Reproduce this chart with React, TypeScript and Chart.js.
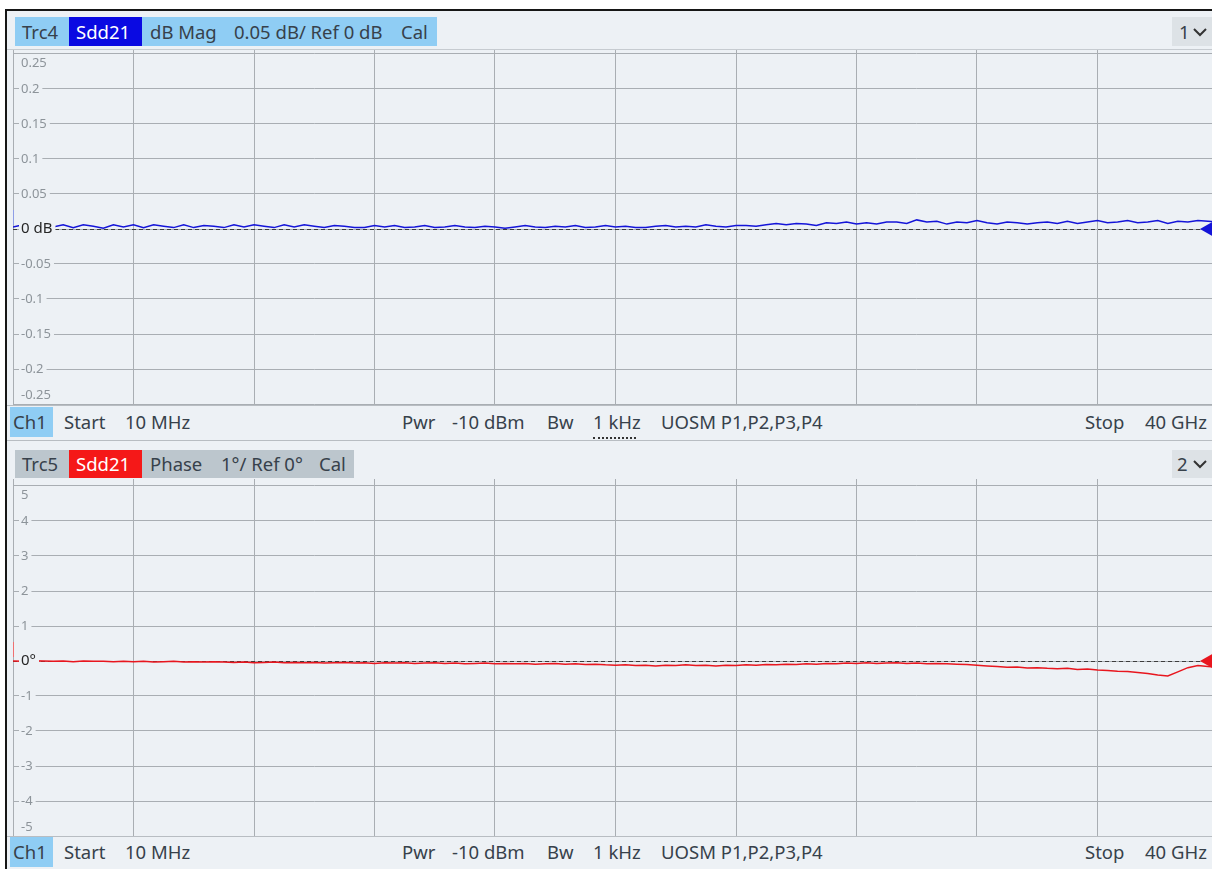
import React, { useEffect, useRef } from "react";
import { Chart, registerables } from "chart.js";

Chart.register(...registerables);

// ---------- data ----------
const START_GHZ = 0.01;
const STOP_GHZ = 40;
const DIVISIONS = 10;

const magTicks = [0.25, 0.2, 0.15, 0.1, 0.05, 0, -0.05, -0.1, -0.15, -0.2, -0.25];
const magTickLabels = ["0.25", "0.2", "0.15", "0.1", "0.05", "0 dB", "-0.05", "-0.1", "-0.15", "-0.2", "-0.25"];

const phaseTicks = [5, 4, 3, 2, 1, 0, -1, -2, -3, -4, -5];
const phaseTickLabels = ["5", "4", "3", "2", "1", "0°", "-1", "-2", "-3", "-4", "-5"];

// Sdd21 dB magnitude (dB), 121 sweep points from Start to Stop
const magDb = [
  0.003, 0.006, 0.002, 0.006, 0.003, 0.006, 0.002, 0.006, 0.004, 0.001,
  0.006, 0.003, 0.006, 0.002, 0.006, 0.004, 0.002, 0.006, 0.002, 0.005,
  0.004, 0.002, 0.006, 0.003, 0.006, 0.004, 0.002, 0.006, 0.003, 0.006,
  0.004, 0.002, 0.005,
  0.004, 0.002, 0.002, 0.005, 0.003, 0.005, 0.002, 0.003, 0.005, 0.002,
  0.003, 0.005, 0.003, 0.002, 0.004, 0.003, 0.001, 0.003, 0.005, 0.003,
  0.002, 0.004, 0.003, 0.005, 0.002, 0.003, 0.005, 0.003, 0.004, 0.002,
  0.002, 0.004, 0.005, 0.003, 0.004, 0.003, 0.006, 0.004, 0.003, 0.005,
  0.005, 0.004,
  0.006, 0.008, 0.006, 0.008, 0.007, 0.005, 0.009, 0.008, 0.010, 0.007,
  0.009, 0.007, 0.010, 0.010, 0.008, 0.013, 0.010, 0.011, 0.007, 0.010,
  0.009, 0.012, 0.009, 0.007, 0.010, 0.009, 0.007, 0.009, 0.010, 0.008,
  0.011, 0.008, 0.010, 0.012, 0.009, 0.010, 0.012, 0.009, 0.010, 0.012,
  0.008, 0.011, 0.010, 0.012, 0.011, 0.010,
];

// Sdd21 phase (degrees), 121 sweep points from Start to Stop
const phaseDeg = [
  0.0, -0.01, 0.01, 0.0, -0.01, 0.0, -0.02, 0.0, -0.01, -0.01,
  -0.02, -0.01, -0.02, -0.01, -0.03, -0.02, -0.01, -0.03, -0.02, -0.03,
  -0.02, -0.03, -0.04, -0.03, -0.05, -0.04, -0.03, -0.05, -0.04, -0.05,
  -0.04, -0.06, -0.05, -0.04, -0.06, -0.05, -0.07, -0.05, -0.06, -0.05,
  -0.07, -0.06, -0.05, -0.07, -0.06, -0.08, -0.07, -0.06, -0.08, -0.07,
  -0.08, -0.07, -0.09, -0.08, -0.07, -0.09, -0.08, -0.10, -0.09, -0.11,
  -0.12, -0.11, -0.13, -0.12, -0.14, -0.12, -0.13, -0.11, -0.13, -0.12,
  -0.14, -0.12, -0.13, -0.11, -0.12, -0.10, -0.11, -0.09, -0.10, -0.08,
  -0.09, -0.07, -0.08, -0.06, -0.07, -0.05, -0.07, -0.06, -0.05, -0.07,
  -0.06, -0.08, -0.07, -0.08, -0.09, -0.10, -0.12, -0.14, -0.16, -0.18,
  -0.17, -0.20, -0.19, -0.21, -0.22, -0.21, -0.24, -0.23, -0.26, -0.27,
  -0.29, -0.30, -0.33, -0.36, -0.40, -0.43, -0.31, -0.19, -0.13, -0.16,
  -0.18,
];

// ---------- style ----------
const BG = "#edf1f5";
const GRID = "#a9aeb3";
const FONT = '"Noto Sans", "DejaVu Sans", sans-serif';
const TXT = "#37414b";
const LIGHT_BLUE = "#8fcdf4";
const GRAY_HDR = "#bcc6cd";

const sweepGHz = (n: number) => {
  const out: number[] = [];
  for (let i = 0; i < n; i++) out.push(START_GHZ + (i * (STOP_GHZ - START_GHZ)) / (n - 1));
  return out;
};
const xGrid = () => {
  const out: number[] = [];
  for (let i = 0; i <= DIVISIONS; i++) out.push(START_GHZ + (i * (STOP_GHZ - START_GHZ)) / DIVISIONS);
  return out;
};

type PanelCfg = {
  values: number[];
  color: string;
  ticks: number[];
  labels: string[];
  min: number;
  max: number;
  stubColor: string;
};

function makeDecor(cfg: PanelCfg) {
  return {
    id: "decor",
    beforeDatasetsDraw(chart: any) {
      const { ctx, chartArea: a, scales } = chart;
      const y0 = Math.round(scales.y.getPixelForValue(0)) + 0.5;
      ctx.save();
      ctx.strokeStyle = "#3c3c3c";
      ctx.lineWidth = 1;
      ctx.setLineDash([4, 3]);
      ctx.beginPath();
      ctx.moveTo(a.left, y0);
      ctx.lineTo(a.right, y0);
      ctx.stroke();
      ctx.restore();
    },
    afterDatasetsDraw(chart: any) {
      const { ctx, chartArea: a, scales } = chart;
      const ys = scales.y;
      ctx.save();
      ctx.textBaseline = "middle";
      cfg.ticks.forEach((v, i) => {
        let yy = ys.getPixelForValue(v);
        if (i === 0) yy += 9;
        else if (i === cfg.ticks.length - 1) yy -= 9;
        const isZero = v === 0;
        ctx.font = isZero ? `15px ${FONT}` : `13px ${FONT}`;
        const label = cfg.labels[i];
        const w = ctx.measureText(label).width;
        ctx.fillStyle = BG;
        ctx.fillRect(a.left + 6, yy - 8, w + 5, 16);
        ctx.fillStyle = isZero ? "#262626" : "#8d949a";
        ctx.fillText(label, a.left + 8, yy);
      });
      // reference level marker at right
      const y0 = ys.getPixelForValue(0);
      ctx.fillStyle = cfg.color;
      ctx.beginPath();
      ctx.moveTo(a.right - 18, y0);
      ctx.lineTo(a.right - 4, y0 - 8);
      ctx.lineTo(a.right - 4, y0 + 8);
      ctx.closePath();
      ctx.fill();
      // start stub at left
      ctx.strokeStyle = cfg.stubColor;
      ctx.lineWidth = 1;
      ctx.beginPath();
      ctx.moveTo(a.left + 0.5, y0 - 19);
      ctx.lineTo(a.left + 0.5, y0 - 4);
      ctx.stroke();
      ctx.restore();
    },
  };
}

function buildChart(canvas: HTMLCanvasElement, cfg: PanelCfg) {
  const xs = sweepGHz(cfg.values.length);
  const gridX = xGrid();
  return new Chart(canvas, {
    type: "line",
    data: {
      datasets: [
        {
          data: cfg.values.map((v, i) => ({ x: xs[i], y: v })),
          borderColor: cfg.color,
          borderWidth: 1.5,
          pointRadius: 0,
          tension: 0,
        },
      ],
    },
    options: {
      animation: false,
      responsive: false,
      maintainAspectRatio: false,
      events: [],
      layout: { padding: 0 },
      plugins: { legend: { display: false }, tooltip: { enabled: false } },
      scales: {
        x: {
          type: "linear",
          min: START_GHZ,
          max: STOP_GHZ,
          afterBuildTicks: (s: any) => {
            s.ticks = gridX.map((v) => ({ value: v }));
          },
          afterFit: (s: any) => {
            s.height = 0;
          },
          ticks: { display: false },
          grid: { color: GRID, lineWidth: 1, drawTicks: false },
          border: { display: false },
        },
        y: {
          type: "linear",
          min: cfg.min,
          max: cfg.max,
          afterBuildTicks: (s: any) => {
            s.ticks = cfg.ticks.map((v) => ({ value: v }));
          },
          afterFit: (s: any) => {
            s.width = 0;
          },
          ticks: { display: false },
          grid: { color: GRID, lineWidth: 1, drawTicks: false },
          border: { display: false },
        },
      },
    } as any,
    plugins: [makeDecor(cfg) as any],
  });
}

function T(props: { x: number; y: number; children: React.ReactNode; color?: string; size?: number }) {
  return (
    <div
      style={{
        position: "absolute",
        left: props.x,
        top: props.y,
        transform: "translateY(-50%)",
        fontFamily: FONT,
        fontSize: props.size ?? 18.5,
        lineHeight: 1,
        whiteSpace: "nowrap",
        color: props.color ?? TXT,
      }}
    >
      {props.children}
    </div>
  );
}

function Box(props: { x: number; y: number; w: number; h: number; bg: string }) {
  return (
    <div
      style={{
        position: "absolute",
        left: props.x,
        top: props.y,
        width: props.w,
        height: props.h,
        background: props.bg,
      }}
    />
  );
}

function Chevron(props: { x: number; y: number }) {
  return (
    <svg
      style={{ position: "absolute", left: props.x, top: props.y }}
      width={14}
      height={9}
      viewBox="0 0 14 9"
    >
      <polyline points="1,1 7,7 13,1" fill="none" stroke="#333" strokeWidth={2} />
    </svg>
  );
}

function Footer(props: { top: number }) {
  const t = props.top;
  const cy = t + 16;
  return (
    <>
      <Box x={10} y={t + 1} w={43} h={30} bg={LIGHT_BLUE} />
      <T x={13} y={cy}>Ch1</T>
      <T x={64} y={cy}>Start</T>
      <T x={125} y={cy}>10 MHz</T>
      <T x={402} y={cy}>Pwr</T>
      <T x={452} y={cy}>-10 dBm</T>
      <T x={547} y={cy}>Bw</T>
      <T x={593} y={cy}>1 kHz</T>
      <T x={661} y={cy}>UOSM P1,P2,P3,P4</T>
      <T x={1085} y={cy}>Stop</T>
      <T x={1145} y={cy}>40 GHz</T>
    </>
  );
}

export default function App() {
  const topRef = useRef<HTMLCanvasElement | null>(null);
  const botRef = useRef<HTMLCanvasElement | null>(null);

  useEffect(() => {
    // top: 0.25 dB sits 4 px below canvas top, -0.25 dB 1 px above bottom (355 px tall)
    const magPxPerUnit = 350 / 0.5;
    const top = buildChart(topRef.current!, {
      values: magDb,
      color: "#1414d8",
      ticks: magTicks,
      labels: magTickLabels,
      min: -0.25 - 1 / magPxPerUnit,
      max: 0.25 + 4 / magPxPerUnit,
      stubColor: "#8f9ee6",
    });
    const phPxPerUnit = 350 / 10;
    const bot = buildChart(botRef.current!, {
      values: phaseDeg,
      color: "#e8161e",
      ticks: phaseTicks,
      labels: phaseTickLabels,
      min: -5,
      max: 5 + 7 / phPxPerUnit,
      stubColor: "#f07070",
    });
    return () => {
      top.destroy();
      bot.destroy();
    };
  }, []);

  return (
    <div
      style={{
        position: "absolute",
        left: 0,
        top: 0,
        width: 1212,
        height: 869,
        overflow: "hidden",
        background: "#ffffff",
      }}
    >
      {/* frame */}
      <div
        style={{
          position: "absolute",
          left: 5,
          top: 9,
          width: 1220,
          height: 870,
          borderTop: "2px solid #161616",
          borderLeft: "2px solid #161616",
          background: BG,
        }}
      />

      {/* top header */}
      <Box x={15} y={17} w={422} h={29} bg={LIGHT_BLUE} />
      <Box x={69} y={17} w={73} h={29} bg="#0a0ae2" />
      <T x={22} y={32}>Trc4</T>
      <T x={76} y={32} color="#ffffff">Sdd21</T>
      <T x={150} y={32}>dB Mag</T>
      <T x={234} y={32}>0.05 dB/ Ref 0 dB</T>
      <T x={401} y={32}>Cal</T>
      <Box x={1172} y={17} w={40} h={29} bg="#dde2e6" />
      <T x={1179} y={32}>1</T>
      <Chevron x={1193} y={28} />
      <Box x={7} y={49} w={1205} h={1} bg="#c6cbd0" />

      <canvas
        ref={topRef}
        width={1205}
        height={355}
        style={{ position: "absolute", left: 13, top: 50, width: 1205, height: 355 }}
      />

      {/* top footer */}
      <Box x={7} y={405} w={1205} h={1} bg="#b8bdc2" />
      <Footer top={406} />
      <div
        style={{
          position: "absolute",
          left: 593,
          top: 437,
          width: 43,
          height: 0,
          borderTop: "2px dotted #333",
        }}
      />
      <Box x={7} y={440} w={1205} h={1} bg="#b8bdc2" />

      {/* bottom header */}
      <Box x={15} y={450} w={339} h={28} bg={GRAY_HDR} />
      <Box x={69} y={450} w={73} h={28} bg="#f51818" />
      <T x={22} y={464}>Trc5</T>
      <T x={76} y={464} color="#ffffff">Sdd21</T>
      <T x={150} y={464}>Phase</T>
      <T x={221} y={464}>1°/ Ref 0°</T>
      <T x={319} y={464}>Cal</T>
      <Box x={1172} y={450} w={40} h={28} bg="#dde2e6" />
      <T x={1177} y={464}>2</T>
      <Chevron x={1193} y={460} />

      <canvas
        ref={botRef}
        width={1205}
        height={357}
        style={{ position: "absolute", left: 13, top: 479, width: 1205, height: 357 }}
      />

      {/* bottom footer */}
      <Box x={7} y={836} w={1205} h={1} bg="#b8bdc2" />
      <Footer top={836} />
    </div>
  );
}
